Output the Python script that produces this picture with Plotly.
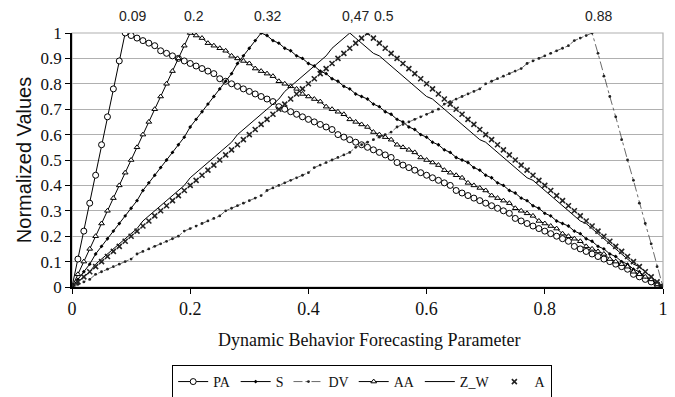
import plotly.graph_objects as go

# x grid: 0.00 .. 1.00 in steps of 0.01 (category axis of the chart)
X = [round(i / 100, 2) for i in range(101)]

PA = [0, .11, .22, .33, .44, .56, .67, .78, .89, 1,
      .99, .98, .97, .96, .95, .93, .92, .91, .90, .89,
      .88, .87, .86, .85, .84, .82, .81, .80, .79, .78,
      .77, .76, .75, .74, .73, .71, .70, .69, .68, .67,
      .66, .65, .64, .63, .62, .60, .59, .58, .57, .56,
      .55, .54, .53, .52, .51, .49, .48, .47, .46, .45,
      .44, .43, .42, .41, .40, .38, .37, .36, .35, .34,
      .33, .32, .31, .30, .29, .27, .26, .25, .24, .23,
      .22, .21, .20, .19, .18, .16, .15, .14, .13, .12,
      .11, .10, .09, .08, .07, .05, .04, .03, .02, .01, 0]

S = [0, .03, .06, .09, .13, .16, .19, .22, .25, .28,
     .31, .34, .38, .41, .44, .47, .50, .53, .56, .59,
     .63, .66, .69, .72, .75, .78, .81, .84, .88, .91,
     .94, .97, 1,
     .99, .97, .96, .94, .93, .91, .90, .88, .87, .85,
     .84, .82, .81, .79, .78, .76, .75, .74, .72, .71,
     .69, .68, .66, .65, .63, .62, .60, .59, .57, .56,
     .54, .53, .51, .50, .49, .47, .46, .44, .43, .41,
     .40, .38, .37, .35, .34, .32, .31, .29, .28, .26,
     .25, .24, .22, .21, .19, .18, .16, .15, .13, .12,
     .10, .09, .07, .06, .04, .03, .01, 0]

DV = [0, .01, .02, .03, .05, .06, .07, .08, .09, .10,
      .11, .13, .14, .15, .16, .17, .18, .19, .20, .22,
      .23, .24, .25, .26, .27, .28, .30, .31, .32, .33,
      .34, .35, .36, .38, .39, .40, .41, .42, .43, .44,
      .45, .47, .48, .49, .50, .51, .52, .53, .55, .56,
      .57, .58, .59, .60, .61, .63, .64, .65, .66, .67,
      .68, .69, .70, .72, .73, .74, .75, .76, .77, .78,
      .80, .81, .82, .83, .84, .85, .86, .88, .89, .90,
      .91, .92, .93, .94, .95, .97, .98, .99, 1,
      .92, .83, .75, .67, .58, .50, .42, .33, .25, .17, .08, 0]

AA = [0, .05, .10, .15, .20, .25, .30, .35, .40, .45,
      .50, .55, .60, .65, .70, .75, .80, .85, .90, .95, 1,
      .99, .98, .96, .95, .94, .93, .91, .90, .89, .88,
      .86, .85, .84, .83, .81, .80, .79, .78, .76, .75,
      .74, .73, .71, .70, .69, .68, .66, .65, .64, .63,
      .61, .60, .59, .58, .56, .55, .54, .53, .51, .50,
      .49, .48, .46, .45, .44, .43, .41, .40, .39, .38,
      .36, .35, .34, .33, .31, .30, .29, .28, .26, .25,
      .24, .23, .21, .20, .19, .18, .16, .15, .14, .13,
      .11, .10, .09, .08, .06, .05, .04, .03, .01, 0]

Z_W = [0, .02, .04, .06, .09, .11, .13, .15, .17, .19,
       .21, .23, .26, .28, .30, .32, .34, .36, .38, .40,
       .43, .45, .47, .49, .51, .53, .55, .57, .60, .62,
       .64, .66, .68, .70, .72, .74, .77, .79, .81, .83,
       .85, .87, .89, .91, .94, .96, .98, 1,
       .98, .96, .94, .92, .91, .89, .87, .85, .83, .81,
       .79, .77, .75, .74, .72, .70, .68, .66, .64, .62,
       .60, .58, .57, .55, .53, .51, .49, .47, .45, .43,
       .42, .40, .38, .36, .34, .32, .30, .28, .26, .25,
       .23, .21, .19, .17, .15, .13, .11, .09, .08, .06,
       .04, .02, 0]

A = [0, .02, .04, .06, .08, .10, .12, .14, .16, .18,
     .20, .22, .24, .26, .28, .30, .32, .34, .36, .38,
     .40, .42, .44, .46, .48, .50, .52, .54, .56, .58,
     .60, .62, .64, .66, .68, .70, .72, .74, .76, .78,
     .80, .82, .84, .86, .88, .90, .92, .94, .96, .98, 1,
     .98, .96, .94, .92, .90, .88, .86, .84, .82, .80,
     .78, .76, .74, .72, .70, .68, .66, .64, .62, .60,
     .58, .56, .54, .52, .50, .48, .46, .44, .42, .40,
     .38, .36, .34, .32, .30, .28, .26, .24, .22, .20,
     .18, .16, .14, .12, .10, .08, .06, .04, .02, 0]

PEAK_X = [0.09, 0.2, 0.32, 0.47, 0.5, 0.88]
PEAK_LABELS = ["0.09", "0.2", "0.32", "0,47", "0.5", "0.88"]
PEAK_SHIFT = [7, 4, 6, 6, 16, 6]

X_TICKS = [0, 0.2, 0.4, 0.6, 0.8, 1]
X_TICKTEXT = ["0", "0.2", "0.4", "0.6", "0.8", "1"]
Y_TICKS = [0, 0.1, 0.2, 0.3, 0.4, 0.5, 0.6, 0.7, 0.8, 0.9, 1]
Y_TICKTEXT = ["0", "0.1", "0.2", "0.3", "0.4", "0.5", "0.6", "0.7", "0.8", "0.9", "1"]

SERIF = "Liberation Serif, Times New Roman, serif"
SANS = "Liberation Sans, Arial, sans-serif"

fig = go.Figure()

fig.add_trace(go.Scatter(
    x=X, y=PA, name="PA", mode="lines+markers",
    line=dict(color="black", width=1),
    marker=dict(symbol="circle", size=6, color="white",
                line=dict(color="black", width=1))))
fig.add_trace(go.Scatter(
    x=X, y=S, name="S", mode="lines+markers",
    line=dict(color="black", width=1),
    marker=dict(symbol="diamond", size=3, color="black")))
fig.add_trace(go.Scatter(
    x=X, y=DV, name="DV", mode="lines+markers",
    line=dict(color="#444", width=0.8, dash="dashdot"),
    marker=dict(symbol="circle", size=2.8, color="#222")))
fig.add_trace(go.Scatter(
    x=X, y=AA, name="AA", mode="lines+markers",
    line=dict(color="black", width=1),
    marker=dict(symbol="triangle-up", size=5, color="white",
                line=dict(color="black", width=1))))
fig.add_trace(go.Scatter(
    x=X, y=Z_W, name="Z_W", mode="lines",
    line=dict(color="black", width=1)))
fig.add_trace(go.Scatter(
    x=X, y=A, name="A", mode="markers",
    marker=dict(symbol="x-thin", size=5, color="black",
                line=dict(color="#222", width=1.6))))

for px, lab, sh in zip(PEAK_X, PEAK_LABELS, PEAK_SHIFT):
    fig.add_annotation(x=px, y=1, text=lab, showarrow=False,
                       xref="x", yref="y", yanchor="bottom",
                       xshift=sh, yshift=7,
                       font=dict(family=SANS, size=14, color="#222"))

# axis titles
fig.add_annotation(x=-0.081, y=0.5, xref="paper", yref="paper", showarrow=False,
                   text="Normalized Values", textangle=-90,
                   xanchor="center", yanchor="middle",
                   font=dict(family=SANS, size=20, color="#111"))
fig.add_annotation(x=0.503, y=-0.209, xref="paper", yref="paper", showarrow=False,
                   text="Dynamic Behavior Forecasting Parameter",
                   xanchor="center", yanchor="middle",
                   font=dict(family=SERIF, size=18, color="#111"))

# grey frame around plot area (top and right)
fig.add_shape(type="rect", xref="paper", yref="paper", x0=0, y0=0, x1=1, y1=1,
              line=dict(color="#b0b0b0", width=1.2), layer="below")

# The page body adds an 8px margin, so the figure is sized to fit the window.
fig.update_layout(
    width=667, height=389,
    margin=dict(l=64, r=12, t=25, b=110, autoexpand=False),
    paper_bgcolor="white", plot_bgcolor="white",
    showlegend=True,
    legend=dict(orientation="h", x=0.491, y=-0.307, xref="paper", yref="paper",
                xanchor="center", yanchor="top",
                bordercolor="black", borderwidth=1,
                font=dict(family=SERIF, size=14, color="#111"),
                itemwidth=30, tracegroupgap=0),
    xaxis=dict(range=[0, 1], tickvals=X_TICKS, ticktext=X_TICKTEXT,
               showgrid=False, zeroline=False, automargin=False,
               ticklabeloverflow="allow",
               showline=True, linecolor="black", linewidth=1.5,
               ticks="outside", ticklen=5, tickcolor="black",
               tickfont=dict(family=SERIF, size=18, color="#111")),
    yaxis=dict(range=[0, 1], tickvals=Y_TICKS, ticktext=Y_TICKTEXT,
               showgrid=True, gridcolor="#b0b0b0", gridwidth=1.2,
               zeroline=False, automargin=False,
               ticklabeloverflow="allow",
               showline=True, linecolor="black", linewidth=1.5,
               ticks="outside", ticklen=5, tickcolor="black",
               tickfont=dict(family=SERIF, size=17, color="#111")),
)

fig.write_html("out.html")
